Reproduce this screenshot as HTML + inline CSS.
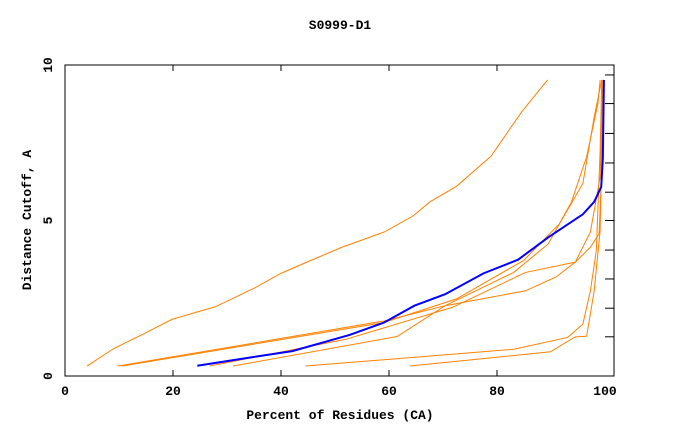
<!DOCTYPE html>
<html><head><meta charset="utf-8"><style>
body{margin:0;background:#fff}
svg text{font-family:"Liberation Mono",monospace;font-weight:bold;font-size:13px;fill:#000}
</style></head><body>
<svg id="c" width="680" height="440">
<text x="340" y="29" text-anchor="middle">S0999-D1</text>
<rect x="65" y="65" width="549" height="311" fill="none" stroke="#000"/>
<g id="ax"></g><g id="ln"></g>
<text x="340" y="419" text-anchor="middle">Percent of Residues (CA)</text>
<text transform="translate(31,220) rotate(-90)" text-anchor="middle">Distance Cutoff, A</text>
</svg>
<script>
const xTicks=[0,20,40,60,80,100];
const yTicks=[0,5,10];
const yMinor=[1.26,2.18,3.12,4.05,5,5.91,6.85,7.8,8.76,9.68];
const s1x=[4.1,8.8,14.5,19.8,27.9,35,40,44.9,51.3,59.1,64.4,67.6,72.5,78.9,84.6,88.1,89.4];
const s1y=[0.32,0.86,1.35,1.82,2.23,2.82,3.3,3.67,4.14,4.63,5.14,5.6,6.1,7.07,8.5,9.25,9.52];
const o1x=[9.8,59.1,70.4,83.1,89.5,93.8,96.6,98.7,99.1];
const o1y=[0.32,1.77,2.26,3.33,4.25,5.6,7.05,8.77,9.52];
const o2x=[10.6,59.1,72.5,84.9,91.6,95.9,98,99.4];
const o2y=[0.32,1.72,2.48,3.71,4.9,6.19,8.33,9.52];
const o3x=[26.8,52,71.8,85.3,94.5,97.3,98.9,99.4,99.8];
const o3y=[0.32,1.18,2.21,3.33,3.66,4.14,4.57,6.5,9.52];
const o4x=[31.1,61.5,70.4,85.3,90.9,94.5,97.3,99.1,99.6];
const o4y=[0.32,1.27,2.26,2.74,3.18,3.66,4.63,6.4,9.52];
const o5x=[44.5,83.1,93.1,95.9,97.3,98.4,99.1,99.4];
const o5y=[0.32,0.86,1.24,1.67,2.74,4.04,7.26,9.52];
const o6x=[63.9,89.9,94.5,96.6,98,99.1,99.6];
const o6y=[0.32,0.78,1.26,1.28,2.74,4.68,9.52];
const bx=[24.5,32.2,42.1,52.7,59.1,64.7,70.4,77.5,83.9,89.5,95.9,98,99.3,99.6,99.8];
const by=[0.33,0.54,0.8,1.32,1.72,2.26,2.63,3.3,3.74,4.46,5.2,5.6,6.08,6.99,9.52];
const NS="http://www.w3.org/2000/svg";
const X=v=>65+v*5.4, Y=v=>376-v*31.1;
const ax=document.getElementById('ax'), ln=document.getElementById('ln');
function mk(t,a,p){const e=document.createElementNS(NS,t);for(const k in a)e.setAttribute(k,a[k]);p.appendChild(e);return e;}
xTicks.forEach(v=>{
 const t=mk('text',{x:X(v),y:395,'text-anchor':'middle'},ax);t.textContent=v;
 
 
 if(v>0&&v<100){mk('line',{x1:X(v),x2:X(v),y1:65,y2:71,stroke:'#000'},ax);mk('line',{x1:X(v),x2:X(v),y1:376,y2:370,stroke:'#000'},ax);}
});
yTicks.forEach(v=>{
 const t=mk('text',{transform:`translate(52,${Y(v)}) rotate(-90)`,'text-anchor':'middle'},ax);t.textContent=v;
 
 
});
yMinor.forEach(v=>{mk('line',{x1:614,x2:605,y1:Y(v),y2:Y(v),stroke:'#000'},ax);});
function line(xs,ys,col,w,name){
 const p=mk('polyline',{points:xs.map((x,i)=>X(x)+','+Y(ys[i])).join(' '),fill:'none',stroke:col,'stroke-width':w},ln);
 
 
}
line(s1x,s1y,'#ff8000',1,'series-s1');
line(o1x,o1y,'#ff8000',1,'series-o1');
line(o2x,o2y,'#ff8000',1,'series-o2');
line(o3x,o3y,'#ff8000',1,'series-o3');
line(o4x,o4y,'#ff8000',1,'series-o4');
line(o5x,o5y,'#ff8000',1,'series-o5');
line(o6x,o6y,'#ff8000',1,'series-o6');
line(bx,by,'#0000ff',2,'series-mean');
</script>
</body></html>
